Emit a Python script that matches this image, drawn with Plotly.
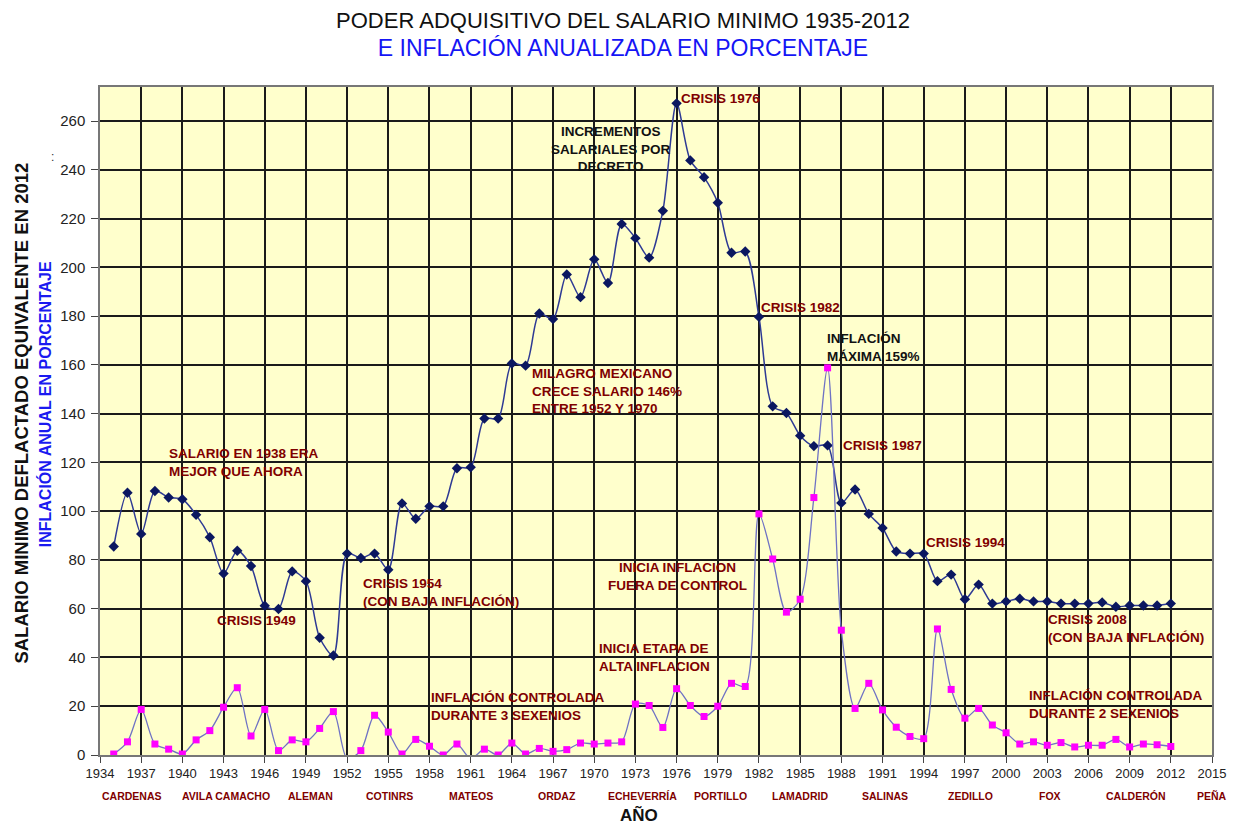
import plotly.graph_objects as go

years = list(range(1935, 2013))

salario = [85.5, 107.6, 90.7, 108.3, 105.6, 104.9, 98.5, 89.3, 74.4, 83.8,
           77.5, 61.2, 59.9, 75.3, 71.3, 48.1, 40.8, 82.6, 80.8, 82.6,
           76.0, 103.2, 96.9, 102.0, 102.0, 117.6, 118.0, 138.0, 138.0, 160.6,
           159.7, 181.1, 178.8, 197.1, 187.8, 203.3, 193.6, 217.8, 212.0, 204.0,
           223.2, 267.3, 243.9, 237.0, 226.5, 206.0, 206.5, 179.7, 143.0, 140.3,
           131.0, 126.7, 127.0, 103.4, 108.9, 98.9, 93.1, 83.5, 82.6, 82.6,
           71.3, 74.0, 63.9, 69.9, 62.1, 63.0, 64.1, 63.0, 63.0, 62.1,
           62.1, 62.1, 62.6, 60.8, 61.3, 61.3, 61.3, 62.1]

inflacion = [0.4, 5.4, 18.7, 4.5, 2.4, 0.4, 6.2, 10.0, 19.6, 27.6,
             7.8, 18.7, 1.8, 6.2, 5.4, 10.9, 17.8, -1.5, 1.8, 16.3,
             9.4, 0.4, 6.4, 3.6, 0.0, 4.5, -1.5, 2.4, 0.0, 4.9,
             0.4, 2.7, 1.5, 2.2, 4.9, 4.5, 4.9, 5.4, 20.9, 20.3,
             11.3, 27.2, 20.3, 15.8, 20.0, 29.4, 28.1, 98.9, 80.4, 58.6,
             63.9, 105.6, 158.8, 51.2, 19.1, 29.4, 18.5, 11.4, 7.6, 6.7,
             51.7, 26.9, 15.1, 19.1, 12.3, 9.1, 4.5, 5.4, 4.0, 5.1,
             3.3, 4.0, 4.0, 6.4, 3.3, 4.5, 4.2, 3.5]

x_ticks = list(range(1934, 2016, 3))
y_ticks = list(range(0, 261, 20))

presidentes = ["CARDENAS", "AVILA CAMACHO", "ALEMAN", "COTINRS", "MATEOS", "ORDAZ",
               "ECHEVERRÍA", "PORTILLO", "LAMADRID", "SALINAS", "ZEDILLO", "FOX",
               "CALDERÓN", "PEÑA"]
presidente_anios = [1936.3, 1943.2, 1949.3, 1955.1, 1961.0, 1967.3, 1973.5,
                    1979.2, 1985.0, 1991.2, 1997.4, 2003.2, 2009.5, 2015.0]

# (text, x-year, y-value, anchor, color)
notas = [
    ("SALARIO EN 1938 ERA<br>MEJOR QUE AHORA", 1938.9, 120, "left", "#7F0000"),
    ("CRISIS 1949", 1942.4, 55, "left", "#7F0000"),
    ("CRISIS 1954<br>(CON BAJA INFLACIÓN)", 1953.0, 66.5, "left", "#7F0000"),
    ("MILAGRO MEXICANO<br>CRECE SALARIO 146%<br>ENTRE 1952 Y 1970", 1965.3, 149.5, "left", "#7F0000"),
    ("INCREMENTOS<br>SALARIALES POR<br>DECRETO", 1971.2, 248.5, "center", "#111111"),
    ("CRISIS 1976", 1976.2, 269.4, "left", "#7F0000"),
    ("CRISIS 1982", 1982.0, 183.6, "left", "#7F0000"),
    ("INFLACIÓN<br>MÁXIMA 159%", 1986.8, 167.3, "left", "#111111"),
    ("CRISIS 1987", 1988.0, 127.0, "left", "#7F0000"),
    ("CRISIS 1994", 1994.0, 87.0, "left", "#7F0000"),
    ("CRISIS 2008<br>(CON BAJA INFLACIÓN)", 2002.9, 51.7, "left", "#7F0000"),
    ("INICIA INFLACION<br>FUERA DE CONTROL", 1976.1, 73.1, "center", "#7F0000"),
    ("INICIA ETAPA DE<br>ALTA INFLACION", 1970.2, 39.8, "left", "#7F0000"),
    ("INFLACIÓN CONTROLADA<br>DURANTE 3 SEXENIOS", 1958.0, 20.1, "left", "#7F0000"),
    ("INFLACIÓN CONTROLADA<br>DURANTE 2 SEXENIOS", 2001.5, 20.9, "left", "#7F0000"),
]

FONT = "Liberation Sans, Arial, sans-serif"

fig = go.Figure()
fig.add_trace(go.Scatter(
    x=years, y=salario, mode="lines+markers", name="Salario",
    line=dict(color="#2E3A94", width=1.5, shape="spline", smoothing=0.8),
    marker=dict(symbol="diamond", size=8, color="#0B1760"),
))
fig.add_trace(go.Scatter(
    x=years, y=inflacion, mode="lines+markers", name="Inflación",
    line=dict(color="#6F72C4", width=1.3, shape="spline", smoothing=0.8),
    marker=dict(symbol="square", size=7, color="#FF00FF"),
))

annotations = []
for text, xv, yv, anchor, color in notas:
    annotations.append(dict(
        x=xv, y=yv, xref="x", yref="y", text="<b>" + text + "</b>",
        showarrow=False, xanchor=anchor, yanchor="middle", align=anchor,
        font=dict(family=FONT, size=13.5, color=color),
    ))
for name, xv in zip(presidentes, presidente_anios):
    annotations.append(dict(
        x=xv, y=-0.061, xref="x", yref="paper", text="<b>" + name + "</b>",
        showarrow=False, xanchor="center", yanchor="middle",
        font=dict(family=FONT, size=10.5, color="#7F0000"),
    ))
annotations += [
    dict(x=0.485, y=-0.0898, xref="paper", yref="paper", text="<b>AÑO</b>",
         showarrow=False, xanchor="center", yanchor="middle",
         font=dict(family=FONT, size=17, color="#111111")),
    dict(x=-0.0705, y=0.512, xref="paper", yref="paper", textangle=-90,
         text="<b>SALARIO MINIMO DEFLACTADO EQUIVALENTE EN 2012</b>",
         showarrow=False, xanchor="center", yanchor="middle",
         font=dict(family=FONT, size=18.5, color="#111111")),
    dict(x=-0.0495, y=0.525, xref="paper", yref="paper", textangle=-90,
         text="<b>INFLACIÓN ANUAL EN PORCENTAJE</b>",
         showarrow=False, xanchor="center", yanchor="middle",
         font=dict(family=FONT, size=16, color="#1A1AF0")),
    dict(x=-0.043, y=0.895, xref="paper", yref="paper", text=":",
         showarrow=False, xanchor="center", yanchor="middle",
         font=dict(family=FONT, size=12, color="#333333")),
]

# The page body has an 8px margin, so the figure is sized to fit the window.
fig.update_layout(
    width=1230, height=816,
    margin=dict(l=92, r=24, t=79, b=69),
    paper_bgcolor="white", plot_bgcolor="#FFFFCC",
    showlegend=False,
    title=dict(
        text="PODER ADQUISITIVO DEL SALARIO MINIMO 1935-2012<br>"
             "<span style='color:#1515F5;font-size:23px'>E INFLACIÓN ANUALIZADA EN PORCENTAJE</span>",
        x=0.5, xanchor="center", y=0.976, yanchor="middle",
        font=dict(family=FONT, size=22, color="#111111"),
    ),
    xaxis=dict(
        range=[1934, 2015], tickmode="array", tickvals=x_ticks,
        showgrid=True, gridcolor="#1A1A1A", gridwidth=1.6,
        ticks="outside", ticklen=6, tickcolor="#444444",
        tickfont=dict(family=FONT, size=13, color="#222222"),
        showline=True, linecolor="#777777", linewidth=1.5, mirror=True, zeroline=False,
    ),
    yaxis=dict(
        range=[0, 274], tickmode="array", tickvals=y_ticks,
        showgrid=True, gridcolor="#1A1A1A", gridwidth=1.6,
        ticks="outside", ticklen=7, tickcolor="#444444",
        ticklabelstandoff=3,
        tickfont=dict(family=FONT, size=15, color="#222222"),
        showline=True, linecolor="#777777", linewidth=1.5, mirror=True, zeroline=False,
    ),
    annotations=annotations,
)

fig.write_html("out.html")
